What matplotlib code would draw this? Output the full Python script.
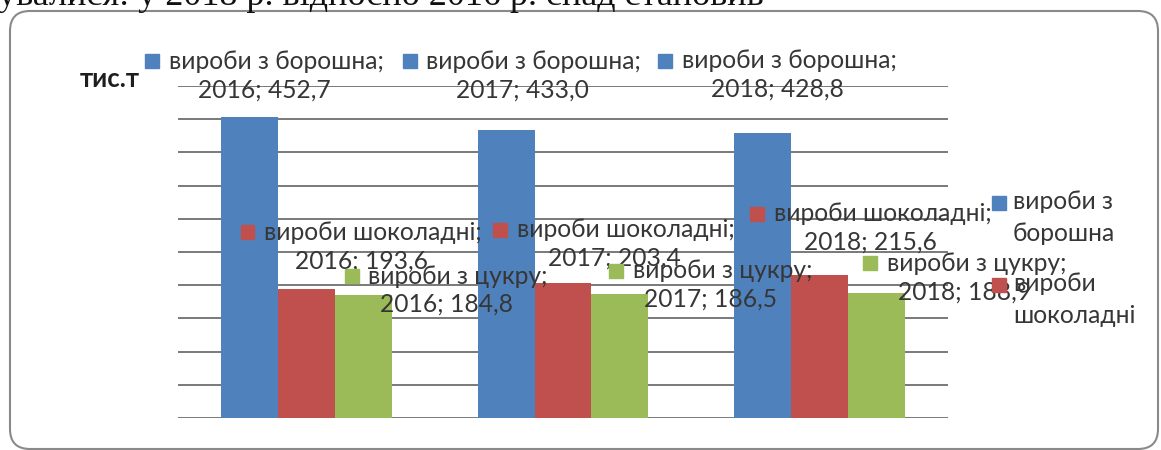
import matplotlib
matplotlib.use("Agg")
import matplotlib.pyplot as plt
import numpy as np
from matplotlib.patches import Rectangle, FancyBboxPatch
from matplotlib.offsetbox import DrawingArea, TextArea, HPacker, VPacker, AnnotationBbox

# дані
years = ["2016", "2017", "2018"]
series = ["вироби з борошна", "вироби шоколадні", "вироби з цукру"]
flour = [452.7, 433.0, 428.8]
chocolate = [193.6, 203.4, 215.6]
sugar = [184.8, 186.5, 188.9]
legend_labels = ["вироби з\nборошна", "вироби\nшоколадні"]
unit = "тис.т"
top_text = "увалися: у 2018 р. відносно 2016 р. спад становив"

colors = ["#4F81BD", "#C0504D", "#9BBB59"]
values = [flour, chocolate, sugar]

# зсуви підписів (пікселі) відносно верхівки стовпця
label_dx = [[15, 16, 15], [55, 51, 51], [83, 91, 88]]
label_dy = [[42, 55, 58], [43, 39, 47], [5, 9, 15]]

FONT = "Lato"
FS = 17.7
TXT = "#363636"

W, H = 1161, 450
fig = plt.figure(figsize=(W / 100, H / 100), dpi=100)
ax = fig.add_axes([178 / W, 32 / H, 770 / W, 332 / H])

x = np.arange(len(years))
bw = 0.222
for i, vals in enumerate(values):
    ax.bar(x + (i - 1) * bw, vals, width=bw, color=colors[i], zorder=2)

ax.set_xlim(-0.5, len(years) - 0.5)
ax.set_ylim(0, 500)
ax.set_yticks(np.arange(0, 501, 50))
ax.yaxis.grid(True, color="#555555", linewidth=1.1, zorder=0)
ax.set_axisbelow(True)
ax.tick_params(left=False, bottom=False, labelleft=False, labelbottom=False)
for s in ax.spines.values():
    s.set_visible(False)

px2pt = 72 / fig.dpi
for i, vals in enumerate(values):
    for j, v in enumerate(vals):
        da = DrawingArea(10, 10, 0, 0)
        da.add_artist(Rectangle((0, 0), 10, 10, color=colors[i]))
        t1 = TextArea(series[i] + ";", textprops=dict(family=FONT, size=FS, color=TXT))
        t2 = TextArea(years[j] + "; " + f"{v:.1f}".replace(".", ","),
                      textprops=dict(family=FONT, size=FS, color=TXT))
        row = HPacker(children=[da, t1], align="center", pad=0, sep=7)
        box = VPacker(children=[row, t2], align="center", pad=0, sep=4)
        ab = AnnotationBbox(box, (x[j] + (i - 1) * bw, v), xycoords="data",
                            xybox=(label_dx[i][j] * px2pt, label_dy[i][j] * px2pt),
                            boxcoords="offset points", frameon=False,
                            box_alignment=(0.5, 0.5), zorder=5)
        ax.add_artist(ab)

# легенда (обрізана, як на оригіналі)
for k, lab in enumerate(legend_labels):
    ytop = 196 + k * 82
    fig.patches.append(Rectangle((992 / W, 1 - (ytop + 14) / H), 14 / W, 14 / H,
                                 color=colors[k], transform=fig.transFigure))
    fig.text(1013 / W, 1 - (ytop - 6) / H, lab, family=FONT, size=FS, color=TXT,
             va="top", ha="left", linespacing=1.45)

fig.text(80 / W, 1 - 79 / H, unit, family=FONT, size=18.5, weight="bold",
         color="#1e1e1e", va="center", ha="left")

# рамка з заокругленими кутами
frame = FancyBboxPatch((10 / 100, 1 / 100), 11.48, 4.38,
                       boxstyle="round,pad=0,rounding_size=0.2",
                       transform=fig.dpi_scale_trans, fill=False,
                       edgecolor="#8a8a8a", linewidth=1.5)
fig.patches.append(frame)

fig.text(-2 / W, 1 - 5 / H, top_text, family="Liberation Serif", size=26,
         color="#111111", va="baseline", ha="left")

fig.savefig("out.png", dpi=100)
